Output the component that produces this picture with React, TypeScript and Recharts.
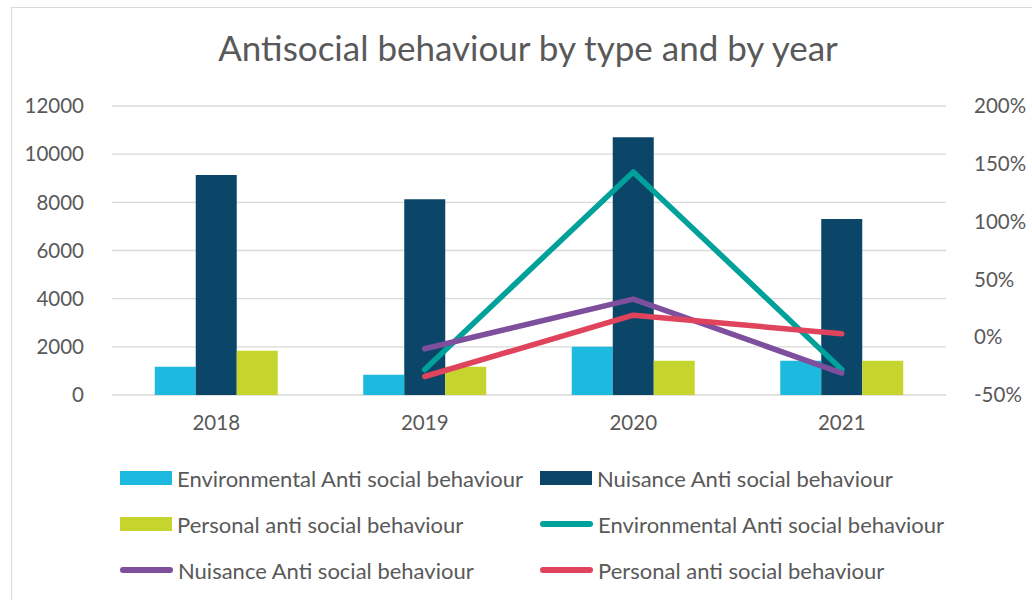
import { ComposedChart, Bar, Line, XAxis, YAxis, CartesianGrid, Legend } from "recharts";

const YEARS = ["2018", "2019", "2020", "2021"];
const ENV_COUNT = [1170, 840, 2000, 1420];
const NUIS_COUNT = [9130, 8130, 10700, 7310];
const PERS_COUNT = [1840, 1170, 1420, 1420];
// year-on-year change, %
const ENV_CHANGE = [null, -28, 143, -28];
const NUIS_CHANGE = [null, -10, 33, -31];
const PERS_CHANGE = [null, -34, 19, 3];
const LEFT_TICKS = [0, 2000, 4000, 6000, 8000, 10000, 12000];
const RIGHT_TICKS = [-50, 0, 50, 100, 150, 200];
const LEGEND_ORDER = ["envCount", "nuisCount", "persCount", "envChange", "nuisChange", "persChange"];

const data = YEARS.map((year, i) => ({
  year,
  envCount: ENV_COUNT[i],
  nuisCount: NUIS_COUNT[i],
  persCount: PERS_COUNT[i],
  envChange: ENV_CHANGE[i],
  nuisChange: NUIS_CHANGE[i],
  persChange: PERS_CHANGE[i],
}));

const TEXT = "#595959";
const FONT = "Lato, sans-serif";

type LegendItem = { value: string; color: string; type: string; dataKey?: string };

const CustomLegend = ({ payload }: { payload?: LegendItem[] }) => {
  const items = [...(payload ?? [])].sort(
    (a, b) => LEGEND_ORDER.indexOf(String(a.dataKey)) - LEGEND_ORDER.indexOf(String(b.dataKey))
  );
  return (
    <div style={{ display: "grid", gridTemplateColumns: "420px 420px", rowGap: 28, paddingLeft: 120, fontFamily: FONT }}>
      {items.map((p, i) => (
        <div key={i} style={{ display: "flex", alignItems: "center", height: 18 }}>
          {p.type === "line" ? (
            <div style={{ width: 53, height: 6, borderRadius: 3, background: p.color }} />
          ) : (
            <div style={{ width: 52, height: 14, background: p.color }} />
          )}
          <span style={{ marginLeft: 5, fontSize: 22, color: TEXT, whiteSpace: "nowrap" }}>{p.value}</span>
        </div>
      ))}
    </div>
  );
};

export default function App() {
  const tick = { fill: TEXT, fontSize: 20.5, fontFamily: FONT };
  return (
    <div style={{ position: "fixed", left: 0, top: 0, width: 1032, height: 600, background: "#fff", fontFamily: FONT }}>
      <div style={{ position: "absolute", left: 11, top: 7, right: -2, bottom: -2, borderLeft: "1px solid #D9D9D9", borderTop: "1px solid #D9D9D9" }} />
      <div style={{ position: "absolute", left: 0, width: 1056, top: 26, textAlign: "center", fontSize: 35, color: TEXT }}>
        Antisocial behaviour by type and by year
      </div>
      <ComposedChart width={1032} height={600} data={data}
        margin={{ top: 106, right: 0, left: 0, bottom: 165 }}
        barCategoryGap="20.5%" barGap={0}>
        <CartesianGrid yAxisId="left" vertical={false} stroke="#D9D9D9" strokeWidth={1.3} />
        <XAxis dataKey="year" axisLine={false} tickLine={false} height={40} tick={tick} tickMargin={14} />
        <YAxis yAxisId="left" width={112} domain={[0, 12000]} ticks={LEFT_TICKS}
          axisLine={false} tickLine={false} tick={tick} tickMargin={22} interval={0} />
        <YAxis yAxisId="right" orientation="right" width={86} domain={[-50, 200]} ticks={RIGHT_TICKS}
          axisLine={false} tickLine={false} tick={tick} tickMargin={22} interval={0}
          tickFormatter={(v) => `${v}%`} />
        <Bar yAxisId="left" dataKey="envCount" name="Environmental Anti social behaviour" fill="#1DB9DE" isAnimationActive={false} />
        <Bar yAxisId="left" dataKey="nuisCount" name="Nuisance Anti social behaviour" fill="#0B4669" isAnimationActive={false} />
        <Bar yAxisId="left" dataKey="persCount" name="Personal anti social behaviour" fill="#C6D52E" isAnimationActive={false} />
        <Line yAxisId="right" dataKey="envChange" name="Environmental Anti social behaviour" stroke="#00A19A"
          strokeWidth={5.5} strokeLinecap="round" strokeLinejoin="round" dot={false} activeDot={false} legendType="line" isAnimationActive={false} />
        <Line yAxisId="right" dataKey="nuisChange" name="Nuisance Anti social behaviour" stroke="#7E4F9D"
          strokeWidth={5.5} strokeLinecap="round" strokeLinejoin="round" dot={false} activeDot={false} legendType="line" isAnimationActive={false} />
        <Line yAxisId="right" dataKey="persChange" name="Personal anti social behaviour" stroke="#E0435C"
          strokeWidth={5.5} strokeLinecap="round" strokeLinejoin="round" dot={false} activeDot={false} legendType="line" isAnimationActive={false} />
        <Legend layout="horizontal" verticalAlign="middle" align="center"
          wrapperStyle={{ top: 469, left: 0, width: 1032 }} content={<CustomLegend />} />
      </ComposedChart>
    </div>
  );
}
